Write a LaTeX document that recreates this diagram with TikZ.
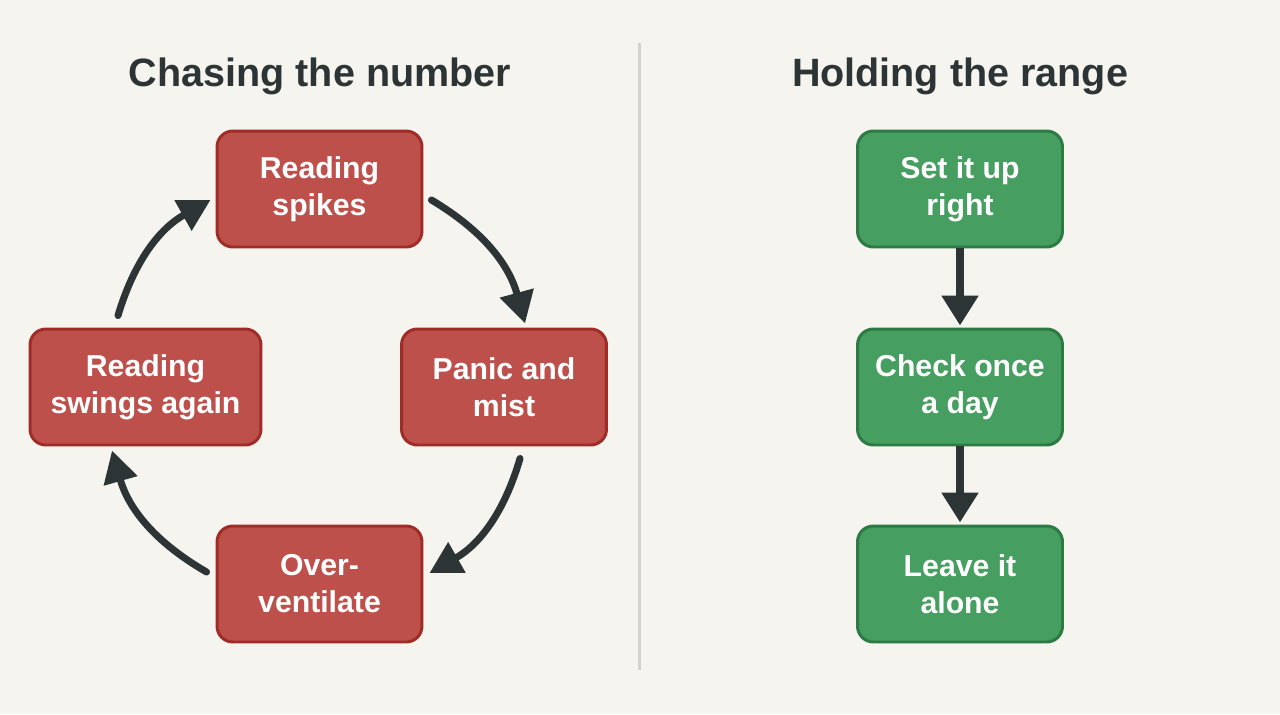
\documentclass[tikz,border=0pt]{standalone}
\usepackage{fontspec}
\setmainfont{Liberation Sans}
\usetikzlibrary{arrows.meta,calc}
\definecolor{bg}{RGB}{246,244,238}
\definecolor{redfill}{RGB}{190,80,76}
\definecolor{redline}{RGB}{160,44,40}
\definecolor{greenfill}{RGB}{70,158,96}
\definecolor{greenline}{RGB}{44,122,68}
\definecolor{ink}{RGB}{45,52,54}
\definecolor{divider}{RGB}{210,210,206}
\tikzset{
  box/.style={rectangle, rounded corners=9pt, minimum width=4.1cm, minimum height=2.32cm,
    line width=1.7pt, font=\bfseries\fontsize{17.2}{21}\selectfont, text=white, align=center},
  redbox/.style={box, fill=redfill, draw=redline},
  greenbox/.style={box, fill=greenfill, draw=greenline},
  cyc/.style={draw=ink, line width=4pt, line cap=round, -{Triangle[length=18pt,width=19pt]}},
  flow/.style={draw=ink, line width=4.2pt, -{Triangle[length=17pt,width=20pt]}},
  title/.style={font=\bfseries\fontsize{22.5}{27}\selectfont, text=ink}
}
\begin{document}
\begin{tikzpicture}[x=0.02cm,y=-0.02cm]
\fill[bg] (0,0) rectangle (1280,714);
\useasboundingbox (0,0) rectangle (1280,714);

\coordinate (dtop) at (639,43);
\coordinate (dbot) at (639,670);
\draw[divider, line width=1.7pt] (dtop) -- (dbot);

\node[title] (tl) at (320,76) {Chasing the number};
\node[title] (tr) at (960,76) {Holding the range};

\node[redbox] (rs) at (319.5,189) {Reading\\spikes};
\node[redbox] (pm) at (504,387) {Panic and\\mist};
\node[redbox] (ov) at (319.5,584) {Over-\\ventilate};
\node[redbox, minimum width=4.62cm] (rsa) at (145.5,387) {Reading\\swings again};

\draw[cyc] ($(rs.east)+(8,11)$) to[bend left=22] ($(pm.north)+(21,-4)$);
\draw[cyc] ($(pm.south)+(16,12)$) to[bend left=22] ($(ov.east)+(6,-11)$);
\draw[cyc] ($(ov.west)+(-9,-12)$) to[bend left=22] ($(rsa.south)+(-33.5,4)$);
\draw[cyc] ($(rsa.north)+(-27.5,-12)$) to[bend left=22] ($(rs.west)+(-5,11)$);

\node[greenbox] (s1) at (960,189) {Set it up\\right};
\node[greenbox] (s2) at (960,387) {Check once\\a day};
\node[greenbox] (s3) at (960,584) {Leave it\\alone};

\draw[flow] (s1.south) -- ($(s2.north)+(0,-2)$);
\draw[flow] (s2.south) -- ($(s3.north)+(0,-2)$);
\end{tikzpicture}
\end{document}
